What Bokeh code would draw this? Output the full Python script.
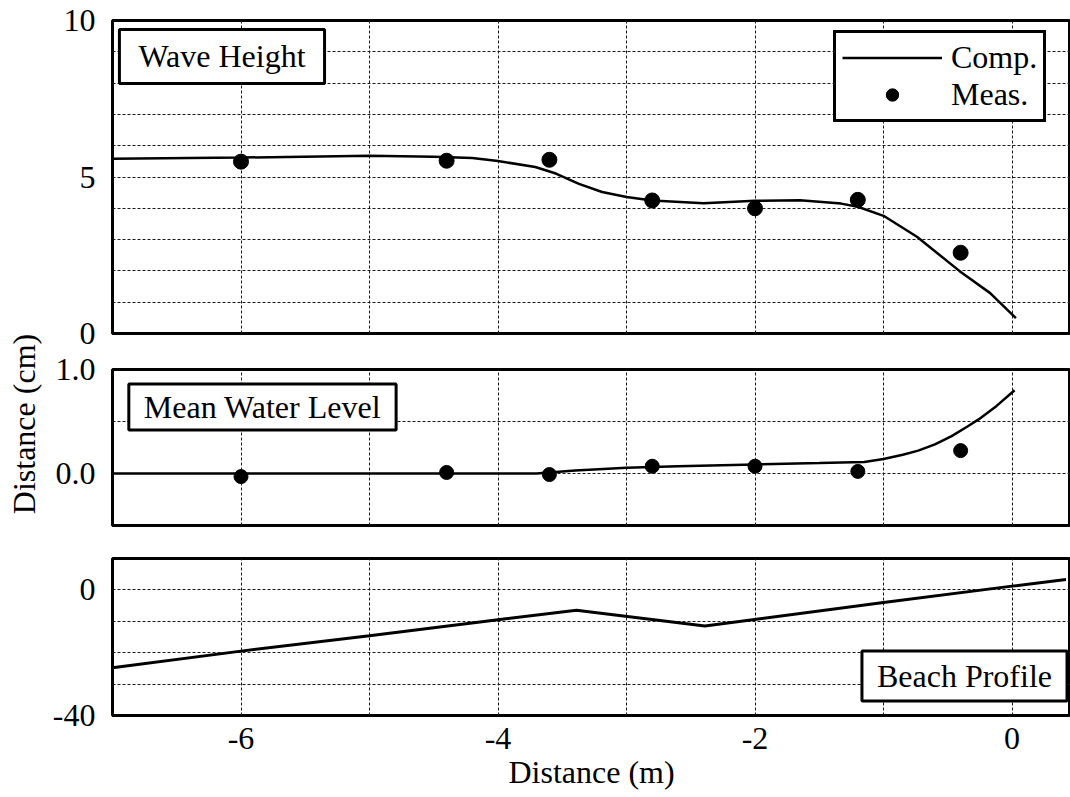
from math import pi
from bokeh.plotting import figure
from bokeh.models import Range1d, FixedTicker, Label, Legend, LegendItem, Grid
from bokeh.layouts import row, column
from bokeh.embed import file_html
from bokeh.resources import INLINE

# ---------------- data ----------------
meas_x = [-6.0, -4.4, -3.6, -2.8, -2.0, -1.2, -0.4]

wave_comp_x = [-7.0, -6.0, -5.0, -4.5, -4.2, -4.0, -3.71, -3.55, -3.37, -3.19, -3.0,
               -2.8, -2.4, -2.0, -1.65, -1.33, -1.2, -1.0, -0.74, -0.41, -0.17, 0.03]
wave_comp_y = [5.58, 5.62, 5.68, 5.65, 5.61, 5.51, 5.32, 5.11, 4.78, 4.52, 4.36,
               4.25, 4.16, 4.24, 4.26, 4.15, 4.05, 3.76, 3.09, 2.0, 1.29, 0.49]
wave_meas = [5.49, 5.52, 5.55, 4.25, 4.0, 4.27, 2.58]

mwl_comp_x = [-7.0, -4.0, -3.7, -3.4, -3.0, -2.6, -2.0, -1.5, -1.15, -1.0, -0.85,
              -0.73, -0.6, -0.47, -0.35, -0.26, -0.12, 0.02]
mwl_comp_y = [0.0, 0.0, 0.0, 0.03, 0.055, 0.07, 0.087, 0.10, 0.11, 0.14, 0.18,
              0.22, 0.28, 0.36, 0.45, 0.52, 0.65, 0.80]
mwl_meas = [-0.03, 0.01, -0.01, 0.07, 0.07, 0.02, 0.22]

beach_x = [-7.0, -6.0, -5.0, -4.0, -3.39, -2.39, -1.0, 0.0, 0.42]
beach_y = [-24.8, -19.5, -14.6, -9.5, -6.5, -11.5, -4.0, 1.2, 3.3]

x_tick_labels = {-6: "-6", -4: "-4", -2: "-2", 0: "0"}
x_grid_lines = [-6, -5, -4, -3, -2, -1, 0]
wave_ticks = {0: "0", 5: "5", 10: "10"}
wave_grid = [1, 2, 3, 4, 5, 6, 7, 8, 9]
mwl_ticks = {0.0: "0.0", 1.0: "1.0"}
mwl_grid = [0.0, 0.5]
beach_ticks = {-40: "-40", 0: "0"}
beach_grid = [-30, -20, -10, 0]

FONT = "Liberation Serif"
FS = "32px"
X_RANGE = (-7.0, 0.455)


def panel(height, top, bottom, yr, yticks, ygrid, show_x=False):
    p = figure(width=1022, height=height, output_backend="svg", toolbar_location=None,
               x_range=Range1d(*X_RANGE), y_range=Range1d(*yr),
               x_axis_location="below" if show_x else None,
               min_border_left=64, min_border_right=0,
               min_border_top=top, min_border_bottom=bottom)
    p.outline_line_color = "black"
    p.outline_line_width = 3
    p.background_fill_color = "white"
    p.border_fill_color = "white"
    if len(p.xgrid) == 0:
        p.add_layout(Grid(dimension=0, ticker=FixedTicker(ticks=x_grid_lines, minor_ticks=[])))
    p.xgrid.ticker = FixedTicker(ticks=x_grid_lines, minor_ticks=[])
    p.ygrid.ticker = FixedTicker(ticks=ygrid, minor_ticks=[])
    for g in (p.xgrid, p.ygrid):
        g.grid_line_color = "#1a1a1a"
        g.grid_line_dash = "3 2"
        g.grid_line_width = 1
    ax = p.yaxis
    ax.ticker = FixedTicker(ticks=list(yticks.keys()), minor_ticks=[])
    ax.major_label_overrides = dict(yticks)
    ax.major_label_text_font = FONT
    ax.major_label_text_font_size = FS
    ax.major_label_text_color = "black"
    ax.major_label_standoff = 17
    ax.major_tick_out = 0
    ax.major_tick_in = 0
    ax.axis_line_color = None
    ax.major_tick_line_color = None
    ax.minor_tick_line_color = None
    if show_x:
        xa = p.xaxis
        xa.ticker = FixedTicker(ticks=list(x_tick_labels.keys()), minor_ticks=[])
        xa.major_label_overrides = dict(x_tick_labels)
        xa.major_label_text_font = FONT
        xa.major_label_text_font_size = FS
        xa.major_label_text_color = "black"
        xa.major_label_standoff = 12
        xa.major_tick_out = 0
        xa.major_tick_in = 0
        xa.axis_line_color = None
        xa.major_tick_line_color = None
        xa.minor_tick_line_color = None
        xa.axis_label = "Distance (m)"
        xa.axis_label_text_font = FONT
        xa.axis_label_text_font_size = FS
        xa.axis_label_text_font_style = "normal"
        xa.axis_label_text_color = "black"
        xa.axis_label_standoff = 2
    return p


def box_label(x, y, text, pad_h, pad_v):
    return Label(x=x, y=y, text=text, text_font=FONT, text_font_size=FS,
                 text_color="black", text_align="center", text_baseline="middle",
                 background_fill_color="white", border_line_color="black",
                 border_line_width=3,
                 padding=dict(left=pad_h, right=pad_h, top=pad_v, bottom=pad_v))


# ---------------- panel 1: wave height ----------------
p1 = panel(351, 20, 18, (0, 10), wave_ticks, wave_grid)
comp1 = p1.line(wave_comp_x, wave_comp_y, line_color="black", line_width=2.5)
meas1 = p1.scatter(meas_x, wave_meas, size=15, marker="circle",
                   fill_color="black", line_color="black")
p1.add_layout(box_label(-6.148, 8.85, "Wave Height", 19, 9))
legend = Legend(items=[LegendItem(label="Comp.", renderers=[comp1]),
                       LegendItem(label="Meas.", renderers=[meas1])],
                location=(721, 211), orientation="vertical",
                glyph_width=100, glyph_height=31, label_height=31, label_standoff=9,
                padding=6, spacing=0, margin=0,
                label_text_font=FONT, label_text_font_size=FS, label_text_color="black",
                border_line_color="black", border_line_width=3, border_line_alpha=1.0,
                background_fill_color="white", background_fill_alpha=1.0)
p1.add_layout(legend, "center")

# ---------------- panel 2: mean water level ----------------
p2 = panel(190, 18, 16, (-0.5, 1.0), mwl_ticks, mwl_grid)
p2.line(mwl_comp_x, mwl_comp_y, line_color="black", line_width=2.5)
p2.scatter(meas_x, mwl_meas, size=14, marker="circle", fill_color="black", line_color="black")
p2.add_layout(box_label(-5.833, 0.64, "Mean Water Level", 15, 5))

# ---------------- panel 3: beach profile ----------------
p3 = panel(256, 17, 82, (-40, 10), beach_ticks, beach_grid, show_x=True)
p3.line(beach_x, beach_y, line_color="black", line_width=3)
p3.add_layout(box_label(-0.370, -27.42, "Beach Profile", 15, 7))

# ---------------- shared y label ----------------
lab = figure(width=48, height=797, output_backend="svg", toolbar_location=None,
             x_range=Range1d(0, 48), y_range=Range1d(0, 797),
             x_axis_location=None, y_axis_location=None, min_border=0)
lab.outline_line_color = None
lab.border_fill_color = "white"
lab.background_fill_color = "white"
for g in list(lab.xgrid) + list(lab.ygrid):
    g.visible = False
lab.add_layout(Label(x=23, y=797 - 423.5, text="Distance (cm)", angle=pi / 2,
                     text_font=FONT, text_font_size=FS, text_color="black",
                     text_align="center", text_baseline="middle"))

layout = row(lab, column(p1, p2, p3))

with open("out.html", "w") as f:
    f.write(file_html(layout, INLINE))
